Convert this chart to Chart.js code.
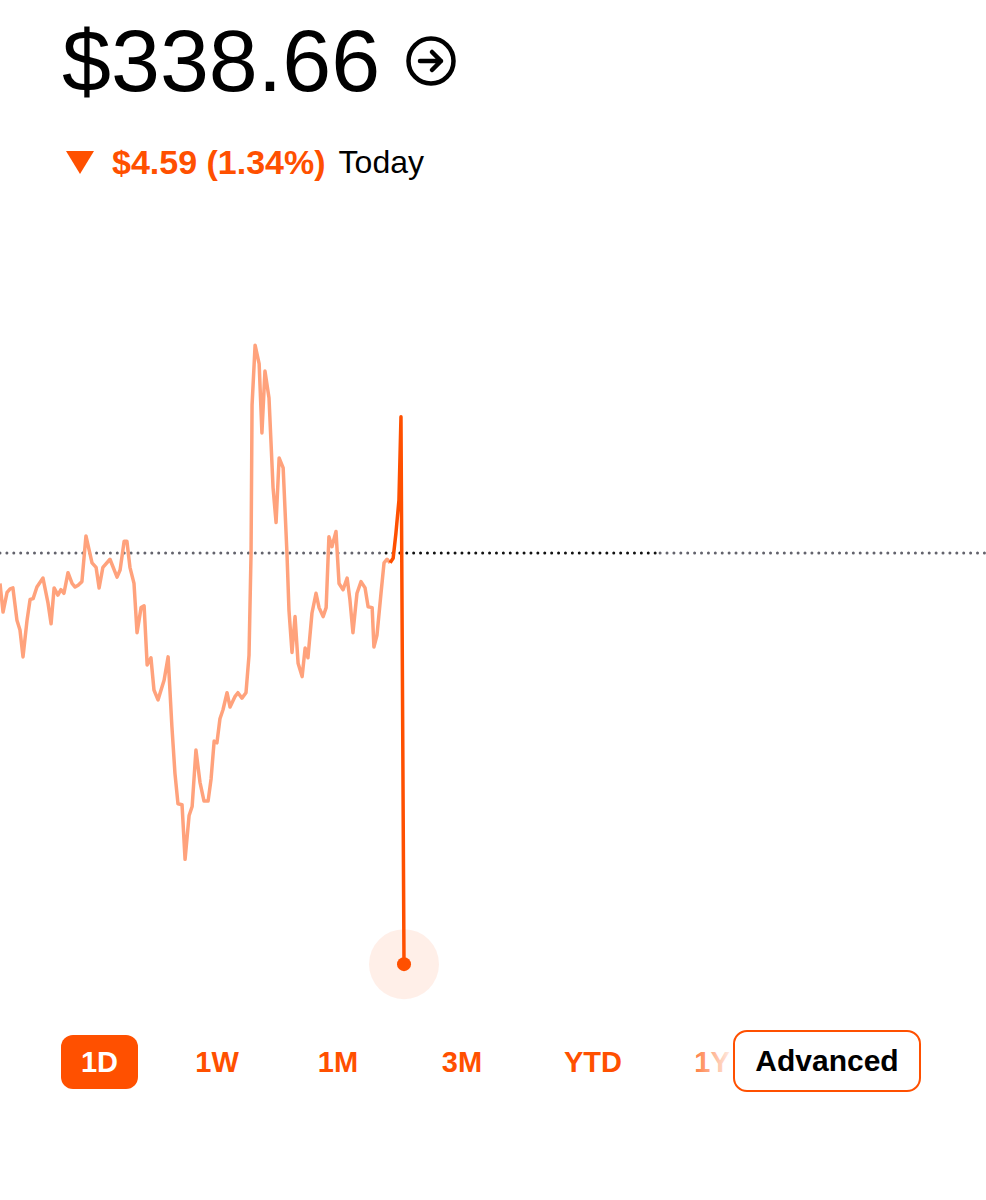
<!DOCTYPE html>
<html>
<head>
<meta charset="utf-8">
<script src="https://cdn.jsdelivr.net/npm/chart.js@4/dist/chart.umd.min.js"></script>
<style>
  body { margin: 0; background: #fff; font-family: "Liberation Sans", Arial, sans-serif; }
  .page { position: relative; width: 986px; height: 1200px; overflow: hidden; }
  .price { position: absolute; left: 62px; top: 11px; font-size: 88px; color: #000; line-height: 100px; }
  .icon { position: absolute; left: 403px; top: 33px; }
  .change { position: absolute; left: 66px; top: 140px; height: 44px; display: flex; align-items: center; }
  .tri { width: 0; height: 0; border-left: 14px solid transparent; border-right: 14px solid transparent; border-top: 23px solid #ff5000; margin-right: 18px; }
  .delta { font-weight: bold; color: #ff5000; font-size: 34px; margin-right: 13px; }
  .today { font-size: 32px; color: #000; }
  .chart-box { position: absolute; left: 0; top: 200px; width: 986px; height: 800px; }
  .tab { position: absolute; top: 1035px; height: 54px; line-height: 54px; font-weight: bold; font-size: 29px; color: #ff5000; text-align: center; }
  .tab.active { background: #ff5000; color: #fff; border-radius: 12px; }
  .fade { position: absolute; left: 680px; top: 1030px; width: 56px; height: 62px; background: linear-gradient(to right, rgba(255,255,255,0), #fff); }
  .advanced { position: absolute; left: 733px; top: 1030px; width: 184px; height: 58px; border: 2px solid #ff5000; border-radius: 14px; background: #fff; color: #000; font-weight: bold; font-size: 30px; line-height: 58px; text-align: center; }
</style>
</head>
<body>
<div class="page">
  <div class="price">$338.66</div>
  <svg class="icon" width="56" height="56" viewBox="0 0 56 56">
    <circle cx="28" cy="28" r="22.5" fill="none" stroke="#000" stroke-width="4.5"/>
    <path d="M17 28 H38 M29 19 L38 28 L29 37" fill="none" stroke="#000" stroke-width="4.5" stroke-linecap="round" stroke-linejoin="round"/>
  </svg>
  <div class="change">
    <div class="tri"></div>
    <span class="delta">$4.59 (1.34%)</span>
    <span class="today">Today</span>
  </div>
  <div class="chart-box"><canvas id="chart"></canvas></div>

  <div class="tab active" style="left:61px;width:77px;">1D</div>
  <div class="tab" style="left:177px;width:80px;">1W</div>
  <div class="tab" style="left:298px;width:80px;">1M</div>
  <div class="tab" style="left:422px;width:80px;">3M</div>
  <div class="tab" style="left:548px;width:90px;">YTD</div>
  <div class="tab" style="left:672px;width:80px;">1Y</div>
  <div class="fade"></div>
  <div class="advanced">Advanced</div>
</div>

<script>
// minutes since the open (trading day = 390 min)
const minutes = [
  0, 1.2, 2.8, 4.0, 5.1, 6.7, 7.9, 9.1, 10.7, 11.9, 13.1, 14.6, 17.0, 19.0, 20.2, 21.4,
  22.9, 24.1, 25.3, 26.9, 28.5, 29.7, 30.9, 32.4, 34.0, 34.8, 36.4, 38.0, 39.2, 40.7,
  43.5, 46.3, 47.5, 49.1, 50.2, 51.4, 53.0, 54.2, 55.8, 57.0, 58.2, 59.7, 60.9, 62.5,
  64.9, 66.5, 68.0, 69.2, 70.4, 72.0, 73.2, 74.8, 76.0, 77.5, 79.1, 80.7, 82.3, 83.5,
  84.7, 85.8, 87.0, 88.2, 89.8, 91.0, 93.0, 94.1, 95.7, 97.3, 98.5, 99.3, 99.7, 100.9,
  102.5, 103.6, 104.8, 106.4, 108.0, 109.2, 110.4, 112.0, 113.5, 114.3, 115.5, 116.7,
  117.9, 119.5, 120.7, 121.8, 123.4, 125.0, 126.2, 127.8, 129.0, 130.1, 131.3, 132.9,
  134.1, 135.7, 137.3, 138.4, 139.6, 141.2, 142.8, 144.4, 145.6, 147.2, 147.9, 149.1,
  150.7, 151.9, 153.1, 154.3, 155.5, 156.6, 157.8, 158.6, 159.8
];

const prices = [
  342.91, 342.59, 342.81, 342.85, 342.86, 342.50, 342.39, 342.09, 342.50, 342.73, 342.74, 342.87, 342.97, 342.69, 342.46, 342.86,
  342.78, 342.84, 342.80, 343.03, 342.91, 342.87, 342.89, 342.93, 343.44, 343.34, 343.14, 343.09, 342.86, 343.09,
  343.18, 342.98, 343.06, 343.38, 343.38, 343.09, 342.91, 342.36, 342.64, 342.66, 342.00, 342.08, 341.72, 341.61,
  341.83, 342.09, 341.31, 340.79, 340.45, 340.44, 339.83, 340.32, 340.42, 341.05, 340.69, 340.48, 340.48, 340.73,
  341.15, 341.13, 341.40, 341.50, 341.69, 341.53, 341.65, 341.69, 341.63, 341.69, 342.11, 343.25, 344.90, 345.57,
  345.36, 344.59, 345.28, 344.98, 343.98, 343.59, 344.31, 344.20, 343.25, 342.61, 342.14, 342.54,
  342.02, 341.87, 342.19, 342.08, 342.58, 342.80, 342.64, 342.54, 342.64, 343.43, 343.32, 343.49,
  342.91, 342.84, 342.97, 342.73, 342.36, 342.80, 342.93, 342.86, 342.65, 342.64, 342.20, 342.33,
  342.80, 343.14, 343.18, 343.14, 343.19, 343.47, 343.84, 344.77, 338.66
];

const prevClose = 343.25;
const liveFrom = 154.3;            // where the line turns solid
const closeLineX = [0, 152.7, 261.1, 390];

const orange = "#ff5000";
const lightOrange = "#ffa27c";

const last = prices.length - 1;
const pricePoints = minutes.map((m, i) => ({ x: m, y: prices[i] }));

new Chart(document.getElementById("chart"), {
  type: "line",
  data: {
    datasets: [
      {
        data: pricePoints,
        borderColor: lightOrange,
        borderWidth: 3.5,
        borderJoinStyle: "round",
        tension: 0,
        pointRadius: ctx => (ctx.dataIndex === last ? 7 : 0),
        pointBackgroundColor: orange,
        pointBorderWidth: 0,
        segment: {
          borderColor: ctx => (ctx.p0.parsed.x >= liveFrom ? orange : lightOrange)
        },
        clip: false,
        order: 1
      },
      {
        data: [{ x: minutes[last], y: prices[last] }],
        showLine: false,
        pointRadius: 35,
        pointBackgroundColor: "rgba(255,80,0,0.09)",
        pointBorderWidth: 0,
        clip: false,
        order: 3
      },
      {
        data: closeLineX.map(x => ({ x: x, y: prevClose })),
        borderWidth: 3,
        borderDash: [0, 6.9],
        borderCapStyle: "round",
        borderColor: "#63636c",
        pointRadius: 0,
        segment: {
          borderColor: ctx => (ctx.p0DataIndex === 1 ? "#111" : "#63636c")
        },
        order: 2
      }
    ]
  },
  options: {
    responsive: true,
    maintainAspectRatio: false,
    animation: false,
    events: [],
    layout: { padding: 0, autoPadding: false },
    scales: {
      x: { type: "linear", min: 0, max: 390, display: false },
      y: { min: 338.26, max: 347.19, display: false }
    },
    plugins: {
      legend: { display: false },
      tooltip: { enabled: false }
    }
  }
});
</script>
</body>
</html>
